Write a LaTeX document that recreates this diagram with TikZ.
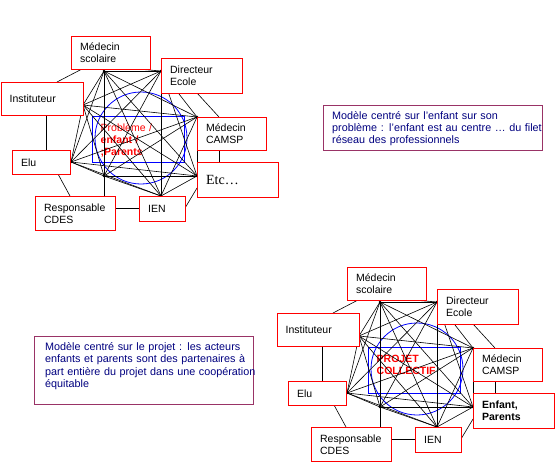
\documentclass[tikz,border=0pt]{standalone}
\usepackage{fontspec}
\setmainfont{Liberation Sans}
\newfontfamily\etcfont{Liberation Serif}
\definecolor{boxred}{RGB}{255,0,0}
\definecolor{noteborder}{RGB}{153,51,102}
\definecolor{notetext}{RGB}{0,0,128}
\definecolor{netblue}{RGB}{0,0,255}
\tikzset{
  actor/.style={draw=boxred, line width=1.2pt, fill=white, anchor=north west,
    align=left, inner xsep=8.5pt, inner ysep=0pt, font=\fontsize{10.5}{12}\selectfont},
  link/.style={line width=0.6pt, draw=black},
  vertex/.style={circle, fill=black, inner sep=0pt, minimum size=2.6pt},
  note/.style={draw=noteborder, line width=1pt, anchor=north west, inner sep=0pt},
  notetxt/.style={text=notetext, anchor=base west, align=left, inner sep=0pt,
    text width=212pt, font=\fontsize{10.8}{12.4}\selectfont},
  centretxt/.style={text=boxred, anchor=base west, align=left, inner sep=0pt,
    text width=80pt, font=\fontsize{10.5}{12}\selectfont},
}
% #1 prefix, #2 centre text, #3 last box text
\newcommand\reseau[3]{%
  \draw[netblue, line width=0.8pt] (141,138) circle (46pt);
  \node[draw=netblue, line width=1.2pt, minimum width=92pt, minimum height=46pt,
        anchor=north west, inner sep=0pt] (#1cadre) at (92,116) {};
  \node[centretxt] (#1centre) at (100.5,131.5) {#2};
  \node[vertex] (#1v1) at (104,71) {};
  \node[vertex] (#1v2) at (161,71) {};
  \node[vertex] (#1v3) at (83,105) {};
  \node[vertex] (#1v4) at (197,117) {};
  \node[vertex] (#1v5) at (71,162) {};
  \node[vertex] (#1v6) at (104,176) {};
  \node[vertex] (#1v7) at (161,196) {};
  \node[vertex] (#1v8) at (197,176) {};
  \foreach \i in {1,...,8}{\foreach \j in {1,...,8}{%
    \ifnum\i<\j \draw[link] (#1v\i.center) -- (#1v\j.center);\fi}}
  \coordinate (#1a1) at (57,82);   \coordinate (#1b1) at (82,69);
  \coordinate (#1a2) at (197,93);  \coordinate (#1b2) at (219,117);
  \coordinate (#1a3) at (219,150); \coordinate (#1b3) at (219,162);
  \coordinate (#1a4) at (197,188); \coordinate (#1b4) at (185,208);
  \coordinate (#1a5) at (139,208); \coordinate (#1b5) at (115,208);
  \coordinate (#1a6) at (70,196);  \coordinate (#1b6) at (58,174);
  \coordinate (#1a7) at (46,150);  \coordinate (#1b7) at (46,115);
  \coordinate (#1a8) at (104,196);
  \coordinate (#1a9) at (137,69);
  \draw[link] (#1a1) -- (#1b1);
  \draw[link] (#1a2) -- (#1b2);
  \draw[link] (#1a3) -- (#1b3);
  \draw[link] (#1a4) -- (#1b4);
  \draw[link] (#1a5) -- (#1b5);
  \draw[link] (#1a6) -- (#1b6);
  \draw[link] (#1a7) -- (#1b7);
  \draw[link] (#1v6.center) -- (#1a8);
  \draw[link] (#1a9) -- (#1v2.center);
  \node[actor, text width=62pt, minimum height=33pt] (#1ms) at (71,36) {Médecin\\scolaire};
  \node[actor, text width=64pt, minimum height=35pt] (#1dir) at (161,58) {Directeur\\Ecole};
  \node[actor, text width=65pt, minimum height=33pt] (#1inst) at (0.6,82) {Instituteur};
  \node[actor, text width=52pt, minimum height=33pt] (#1camsp) at (197,117) {Médecin\\CAMSP};
  \node[actor, text width=41pt, minimum height=24pt] (#1elu) at (12,150) {Elu};
  \node[actor, text width=64pt, minimum height=35pt] (#1last) at (197,162) {#3};
  \node[actor, text width=63pt, minimum height=34pt] (#1cdes) at (35,196) {Responsable\\CDES};
  \node[actor, text width=29pt, minimum height=25pt] (#1ien) at (139,196) {IEN};
}
\begin{document}
\begin{tikzpicture}[x=1pt,y=-1pt]
\useasboundingbox[fill=white] (0,0) rectangle (556,463);

\begin{scope}
  \reseau{t}{Problème /\\\textbf{enfant /}\\\textbf{;Parents}}{\etcfont\fontsize{14}{16}\selectfont Etc…}
\end{scope}

\begin{scope}[shift={(276,231)}]
  \reseau{b}{\textbf{PROJET}\\\textbf{COLLECTIF}}{\textbf{Enfant,}\\\textbf{Parents}}
\end{scope}

\node[note, minimum width=219pt, minimum height=45pt] (noteA) at (323,105) {};
\node[notetxt] (noteAtext) at (332,119) {Modèle centré sur l’enfant sur son\\problème : l’enfant est au centre … du filet\\réseau des professionnels};

\node[note, minimum width=219pt, minimum height=68pt] (noteB) at (34,336) {};
\node[notetxt] (noteBtext) at (45,350.5) {Modèle centré sur le projet : les acteurs\\enfants et parents sont des partenaires à\\part entière du projet dans une coopération\\équitable};
\end{tikzpicture}
\end{document}
